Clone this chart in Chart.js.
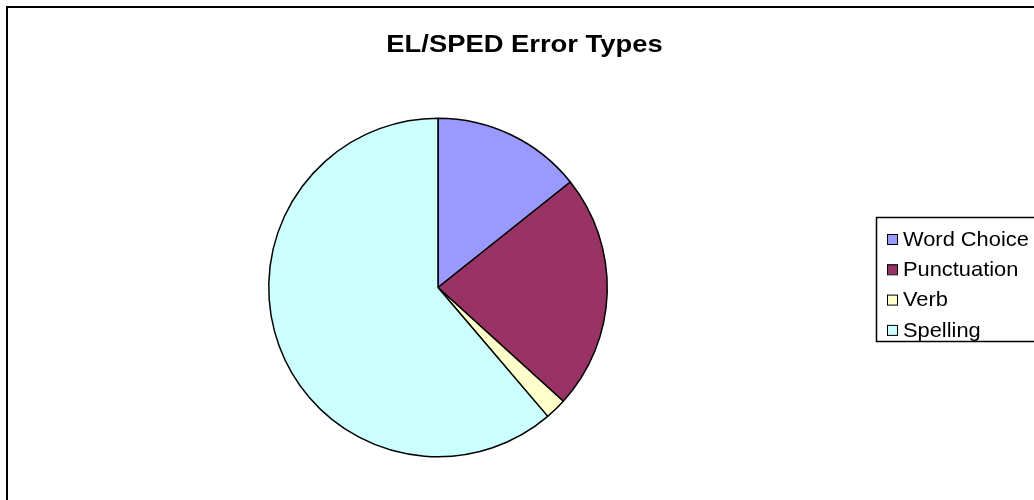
<!DOCTYPE html>
<html>
<head>
<meta charset="utf-8">
<script src="https://cdn.jsdelivr.net/npm/chart.js@4/dist/chart.umd.min.js"></script>
<style>
html,body{margin:0;padding:0;background:#fff;overflow:hidden;}
#wrap{width:1034px;height:500px;position:relative;}
</style>
</head>
<body>
<div id="wrap"><canvas id="c" width="1034" height="500"></canvas></div>
<script>
const chartTitle = "EL/SPED Error Types";
const categories = ["Word Choice", "Punctuation", "Verb", "Spelling"];
const errorCounts = [7, 11, 1, 30];
const sliceColors = ["#9999FF", "#993366", "#FFFFCC", "#CCFFFF"];

const framePlugin = {
  id: 'frame',
  beforeDraw(chart) {
    const ctx = chart.ctx;
    ctx.save();
    ctx.fillStyle = '#fff';
    ctx.fillRect(0, 0, chart.width, chart.height);
    ctx.strokeStyle = '#000';
    ctx.lineWidth = 2;
    ctx.strokeRect(7, 7, 1100, 600);
    ctx.restore();
  },
  afterDraw(chart) {
    const ctx = chart.ctx;
    ctx.save();
    // title (slightly wide lettering, as in the reference)
    ctx.fillStyle = '#000';
    ctx.font = 'bold 23px "Liberation Sans", Arial, sans-serif';
    ctx.textAlign = 'center';
    ctx.textBaseline = 'alphabetic';
    ctx.save();
    ctx.translate(524.5, 52);
    ctx.scale(1.19, 1);
    ctx.fillText(chartTitle, 0, 0);
    ctx.restore();
    // legend box
    ctx.strokeStyle = '#000';
    ctx.lineWidth = 1.5;
    ctx.strokeRect(876.5, 217.5, 200, 124);
    const labels = chart.data.labels;
    const colors = chart.data.datasets[0].backgroundColor;
    ctx.font = '21px "Liberation Sans", Arial, sans-serif';
    ctx.textAlign = 'left';
    ctx.textBaseline = 'middle';
    labels.forEach((lab, i) => {
      const y = 239 + i * 30.3;
      ctx.fillStyle = colors[i];
      ctx.fillRect(887, y - 5, 10, 10);
      ctx.lineWidth = 1;
      ctx.strokeStyle = '#000';
      ctx.strokeRect(887.5, y - 4.5, 10, 10);
      ctx.fillStyle = '#000';
      ctx.save();
      ctx.translate(903, y + 1);
      ctx.scale(1.04, 1);
      ctx.fillText(lab, 0, 0);
      ctx.restore();
    });
    ctx.restore();
  }
};

new Chart(document.getElementById('c'), {
  type: 'pie',
  data: {
    labels: categories,
    datasets: [{
      data: errorCounts,
      backgroundColor: sliceColors,
      borderColor: '#000',
      borderWidth: 1.5
    }]
  },
  options: {
    responsive: false,
    animation: false,
    events: [],
    layout: { padding: { left: 268, right: 426, top: 117, bottom: 42 } },
    plugins: {
      legend: { display: false },
      title: { display: false },
      tooltip: { enabled: false }
    }
  },
  plugins: [framePlugin]
});
</script>
</body>
</html>
